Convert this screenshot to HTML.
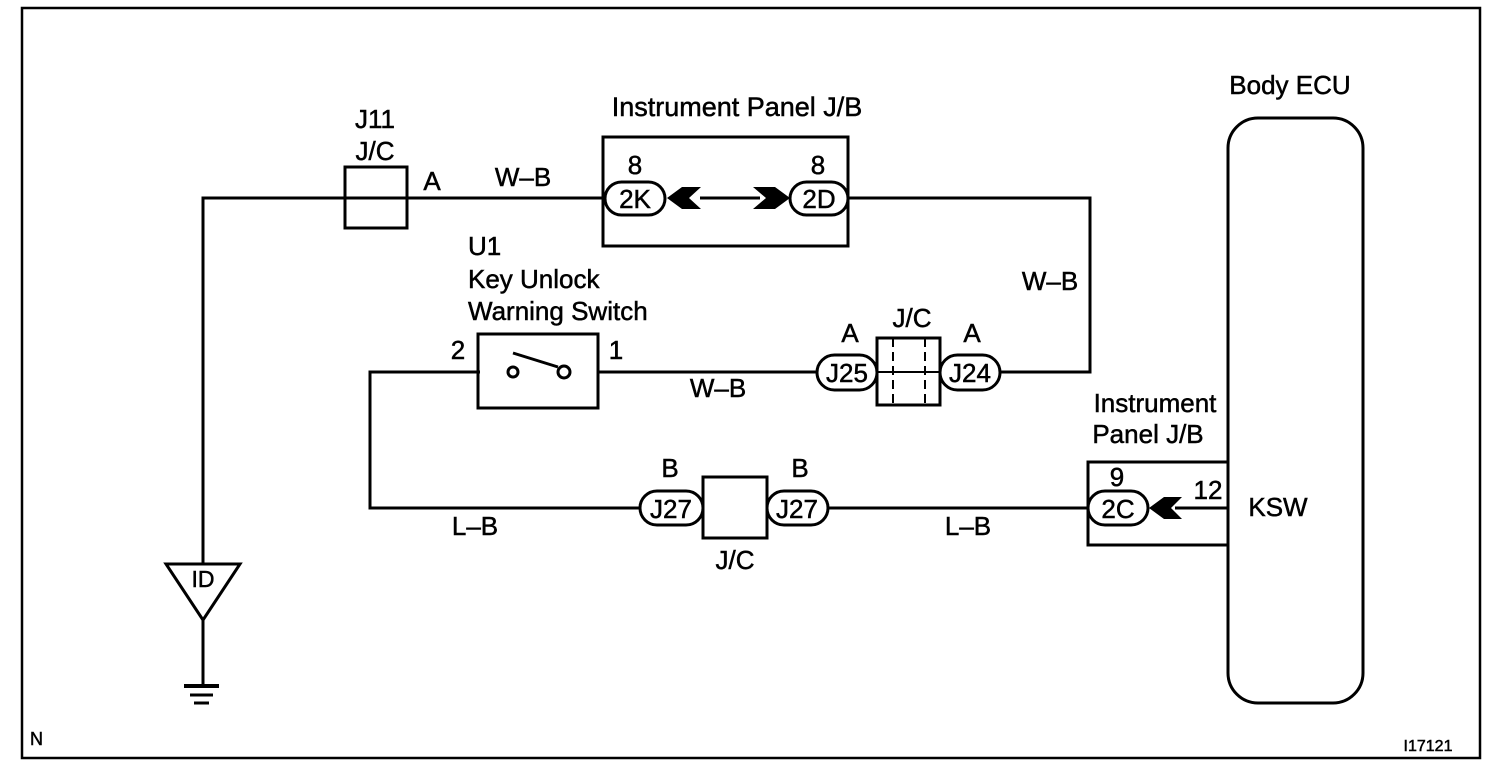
<!DOCTYPE html>
<html><head><style>
body{margin:0;background:#fff}
svg{display:block}
text{font-family:"Liberation Sans",Arial,sans-serif;font-size:26px;fill:#000;stroke:#000;stroke-width:0.5}
.p{font-size:26px}
</style></head><body>
<svg width="1504" height="776" viewBox="0 0 1504 776" xmlns="http://www.w3.org/2000/svg">
<g fill="none" stroke="#000" stroke-width="3">
<rect x="22" y="8" width="1458" height="750" stroke-width="2.5"/>
<polyline points="203,563 203,198 605,198"/>
<polyline points="848,198 1090,198 1090,372 1000,372"/>
<line x1="700" y1="198" x2="760" y2="198"/>
<rect x="345" y="167" width="62" height="61"/>
<rect x="603" y="137" width="245" height="109"/>
<rect x="605" y="182" width="60" height="33" rx="16.5"/>
<rect x="790" y="182" width="58" height="33" rx="16.5"/>
<polygon points="166,564 240,564 203,620"/>
<line x1="203" y1="620" x2="203" y2="686"/>
<line x1="184" y1="686" x2="219" y2="686" stroke-width="4"/>
<line x1="190" y1="695" x2="213" y2="695"/>
<line x1="194" y1="703" x2="209" y2="703"/>
<line x1="597" y1="372" x2="817" y2="372"/>
<polyline points="480,372 370,372 370,508 640,508"/>
<rect x="478" y="334" width="120" height="74"/>
<circle cx="513" cy="372" r="5" fill="#fff"/>
<circle cx="564" cy="372" r="6" fill="#fff"/>
<line x1="513" y1="353" x2="558" y2="367"/>
<rect x="817" y="355" width="60" height="35" rx="17.5"/>
<rect x="940" y="355" width="60" height="35" rx="17.5"/>
<rect x="877" y="338" width="63" height="67"/>
<line x1="877" y1="372" x2="940" y2="372" stroke-width="2"/>
<line x1="893" y1="338" x2="893" y2="405" stroke-width="2" stroke-dasharray="9,5"/>
<line x1="925" y1="338" x2="925" y2="405" stroke-width="2" stroke-dasharray="9,5"/>
<rect x="640" y="491" width="63" height="34" rx="17"/>
<rect x="767" y="491" width="61" height="34" rx="17"/>
<rect x="703" y="477" width="64" height="61"/>
<line x1="828" y1="508" x2="1088" y2="508"/>
<polyline points="1228,462 1088,462 1088,545 1228,545"/>
<rect x="1088" y="491" width="60" height="34" rx="17"/>
<line x1="1175" y1="508" x2="1228" y2="508"/>
<rect x="1228" y="118" width="135" height="585" rx="30"/>
</g>
<g fill="#000">
<polygon points="667,198 682,187 701,187 689,198 701,209 682,209"/>
<polygon points="790,198 775,187 753,187 766,198 753,209 775,209"/>
<polygon points="1149,508 1164,497 1182,497 1171,508 1182,519 1164,519"/>
</g>
<text x="375" y="128" text-anchor="middle">J11</text>
<text x="375" y="160" text-anchor="middle">J/C</text>
<text x="432" y="190" text-anchor="middle">A</text>
<text x="523" y="186" text-anchor="middle">W–B</text>
<text x="737" y="116" text-anchor="middle" style="font-size:27px">Instrument Panel J/B</text>
<text x="635" y="174" text-anchor="middle">8</text>
<text x="818" y="174" text-anchor="middle">8</text>
<text x="635" y="208" text-anchor="middle" class="p">2K</text>
<text x="819" y="208" text-anchor="middle" class="p">2D</text>
<text x="1290" y="94" text-anchor="middle">Body ECU</text>
<text x="1050" y="290" text-anchor="middle">W–B</text>
<text x="468" y="255">U1</text>
<text x="468" y="288">Key Unlock</text>
<text x="468" y="320">Warning Switch</text>
<text x="458" y="359" text-anchor="middle">2</text>
<text x="616" y="359" text-anchor="middle">1</text>
<text x="718" y="397" text-anchor="middle">W–B</text>
<text x="912" y="327" text-anchor="middle">J/C</text>
<text x="850" y="342" text-anchor="middle">A</text>
<text x="972" y="342" text-anchor="middle">A</text>
<text x="847" y="382" text-anchor="middle" class="p">J25</text>
<text x="970" y="382" text-anchor="middle" class="p">J24</text>
<text x="1155" y="412" text-anchor="middle">Instrument</text>
<text x="1148" y="443" text-anchor="middle">Panel J/B</text>
<text x="1117" y="486" text-anchor="middle">9</text>
<text x="1118" y="518" text-anchor="middle" class="p">2C</text>
<text x="1208" y="499" text-anchor="middle">12</text>
<text x="1278" y="516" text-anchor="middle">KSW</text>
<text x="670" y="477" text-anchor="middle">B</text>
<text x="800" y="477" text-anchor="middle">B</text>
<text x="671" y="518" text-anchor="middle" class="p">J27</text>
<text x="797" y="518" text-anchor="middle" class="p">J27</text>
<text x="735" y="569" text-anchor="middle">J/C</text>
<text x="475" y="535" text-anchor="middle">L–B</text>
<text x="968" y="535" text-anchor="middle">L–B</text>
<text x="203" y="587" text-anchor="middle" style="font-size:23px">ID</text>
<text x="30" y="745" style="font-size:18px">N</text>
<text x="1428" y="751" text-anchor="middle" style="font-size:16px">I17121</text>
</svg>
</body></html>
